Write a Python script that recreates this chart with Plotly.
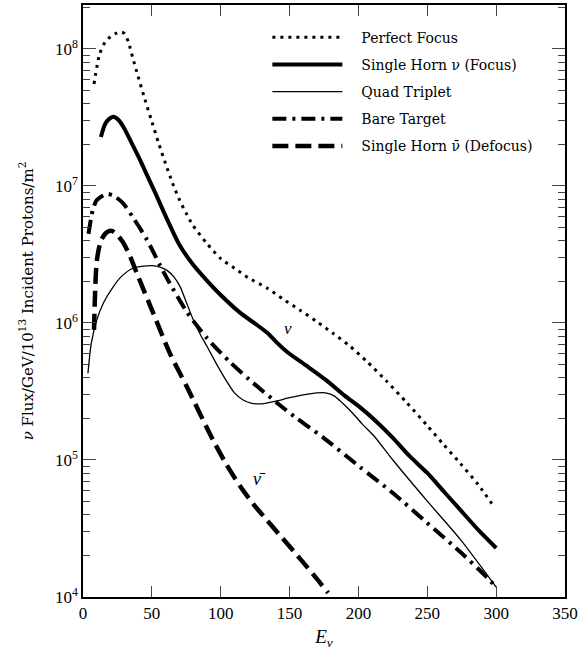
import plotly.graph_objects as go

# Neutrino energy (GeV) and flux per GeV per 1e13 incident protons per m^2
e_perfect = [8, 12, 16, 20, 24, 27.5, 30, 33, 36, 40, 45, 50, 55, 60, 65, 70, 75, 80, 90, 100,
             110, 120, 133.6, 145, 157.6, 170, 181.5, 194, 206, 220, 235, 250, 262, 274, 287, 299]
flux_perfect = [5.56e7, 9.12e7, 1.12e8, 1.23e8, 1.30e8, 1.33e8, 1.30e8, 1.12e8, 8.71e7, 6.31e7,
                4.27e7, 2.95e7, 2.04e7, 1.45e7, 1.05e7, 7.94e6, 6.31e6, 5.13e6, 3.80e6, 2.95e6,
                2.51e6, 2.14e6, 1.80e6, 1.50e6, 1.24e6, 1.02e6, 8.41e5, 6.76e5, 5.25e5, 3.80e5,
                2.63e5, 1.78e5, 1.29e5, 9.44e4, 6.61e4, 4.47e4]

e_horn = [13, 16, 19, 22, 26, 30, 35, 41.4, 47, 52, 60, 70, 80, 90, 100, 114, 125, 133.6, 141,
          148, 162, 177, 190, 201, 212, 225, 237, 250, 262, 274, 287, 300]
flux_horn = [2.28e7, 2.82e7, 3.09e7, 3.20e7, 3.02e7, 2.63e7, 2.09e7, 1.55e7, 1.17e7, 9.12e6,
             6.03e6, 3.72e6, 2.66e6, 2.04e6, 1.60e6, 1.19e6, 9.89e5, 8.51e5, 7.16e5, 6.17e5,
             4.90e5, 3.80e5, 2.95e5, 2.43e5, 1.95e5, 1.45e5, 1.07e5, 8.04e4, 5.89e4, 4.32e4,
             3.09e4, 2.28e4]

e_quad = [3.6, 6, 10, 15, 21.8, 28, 36.3, 44, 50, 56, 61, 66, 70.4, 75, 80, 85, 90, 97, 104, 110,
          116, 122, 130, 140, 150, 160, 170, 176, 182, 188, 195, 203, 211, 225, 250, 274, 300]
flux_quad = [4.3e5, 7.1e5, 1.05e6, 1.41e6, 1.83e6, 2.19e6, 2.51e6, 2.60e6, 2.62e6, 2.56e6,
             2.42e6, 2.17e6, 1.85e6, 1.42e6, 1.06e6, 8.32e5, 6.76e5, 5.01e5, 3.80e5, 3.09e5,
             2.75e5, 2.60e5, 2.57e5, 2.69e5, 2.85e5, 2.99e5, 3.09e5, 3.09e5, 2.95e5, 2.63e5,
             2.24e5, 1.82e5, 1.51e5, 1.0e5, 5.01e4, 2.63e4, 1.18e4]

e_bare = [4, 7, 10, 17.4, 23, 29, 37, 46.5, 56, 63, 75.5, 90, 106.7, 121, 143, 155, 174, 201,
          225, 250, 274, 293, 300]
flux_bare = [4.47e6, 6.6e6, 7.9e6, 8.75e6, 8.4e6, 7.5e6, 5.75e6, 4.04e6, 2.63e6, 1.95e6, 1.20e6,
             7.76e5, 5.19e5, 3.84e5, 2.51e5, 2.02e5, 1.47e5, 8.9e4, 5.74e4, 3.47e4, 2.13e4, 1.4e4,
             1.18e4]

e_defocus = [8, 10, 13, 17, 21, 25, 29, 34, 39, 51, 63, 75.5, 94.4, 104, 114, 124, 133.6, 143,
             153, 162.6, 170, 178]
flux_defocus = [8.9e5, 2.82e6, 3.98e6, 4.57e6, 4.7e6, 4.37e6, 3.89e6, 3.09e6, 2.32e6, 1.18e6,
                6.03e5, 3.41e5, 1.40e5, 9.33e4, 6.46e4, 4.73e4, 3.63e4, 2.82e4, 2.16e4, 1.66e4,
                1.35e4, 1.07e4]

y_tickvals = [1e4, 1e5, 1e6, 1e7, 1e8]
y_ticktext = ["10<sup>4</sup>", "10<sup>5</sup>", "10<sup>6</sup>", "10<sup>7</sup>", "10<sup>8</sup>"]
x_tickvals = [0, 50, 100, 150, 200, 250, 300, 350]

SERIF = "Liberation Serif"
WIDE = "DejaVu Serif"
GAP = "\u2003"  # space between legend line and text

fig = go.Figure()

series = [
    ("Perfect Focus", e_perfect, flux_perfect, dict(color="black", width=3, dash="3px,5px")),
    ("Single Horn ν (Focus)", e_horn, flux_horn, dict(color="black", width=4)),
    ("Quad Triplet", e_quad, flux_quad, dict(color="black", width=1.3)),
    ("Bare Target", e_bare, flux_bare, dict(color="black", width=4, dash="14px,6px,3px,6px")),
    ("Single Horn ν̄ (Defocus)", e_defocus, flux_defocus, dict(color="black", width=4.5, dash="16px,7px")),
]
for i, (name, xs, ys, line) in enumerate(series):
    fig.add_trace(go.Scatter(x=xs, y=ys, mode="lines", name=GAP + name, legendgroup=str(i),
                             line=dict(shape="spline", smoothing=0.7, **line)))

# curve labels
fig.add_annotation(x=149, y=5.96, text="<i>ν</i>", showarrow=False,
                   font=dict(family=SERIF, size=17, color="black"))
fig.add_annotation(x=128.5, y=4.86, text="<i>ν̄</i>", showarrow=False,
                   font=dict(family=SERIF, size=18, color="black"))

fig.update_layout(
    width=578, height=650,
    margin=dict(l=83, r=13, t=5, b=53),
    paper_bgcolor="white", plot_bgcolor="white",
    font=dict(family=SERIF, size=17, color="black"),
    showlegend=True,
    legend=dict(x=0.3825, y=0.972, xanchor="left", yanchor="top", bgcolor="rgba(0,0,0,0)",
                font=dict(family=WIDE, size=14), itemwidth=70, tracegroupgap=6),
    xaxis=dict(range=[0, 350], tickvals=x_tickvals, ticks="inside", ticklen=11, tickwidth=1,
               showline=True, linewidth=1.5, linecolor="black", mirror="ticks", showgrid=False,
               zeroline=False, automargin=False,
               title=dict(text="<i>E</i><sub><i>ν</i></sub>", font=dict(size=19), standoff=12)),
    yaxis=dict(type="log", range=[4, 8.321], tickvals=y_tickvals, ticktext=y_ticktext,
               ticks="inside", ticklen=13, tickwidth=1, showline=True, linewidth=1.5,
               linecolor="black", mirror="ticks", showgrid=False, zeroline=False, automargin=False,
               minor=dict(ticks="inside", ticklen=7, tickwidth=1, dtick="D1", showgrid=False),
               title=dict(text="<i>ν</i> Flux/GeV/10<sup>13</sup> Incident Protons/m<sup>2</sup>",
                          font=dict(family=WIDE, size=15), standoff=18)),
)

fig.write_html("out.html", config={"displayModeBar": False},
               post_script="document.body.style.margin='0px';")
